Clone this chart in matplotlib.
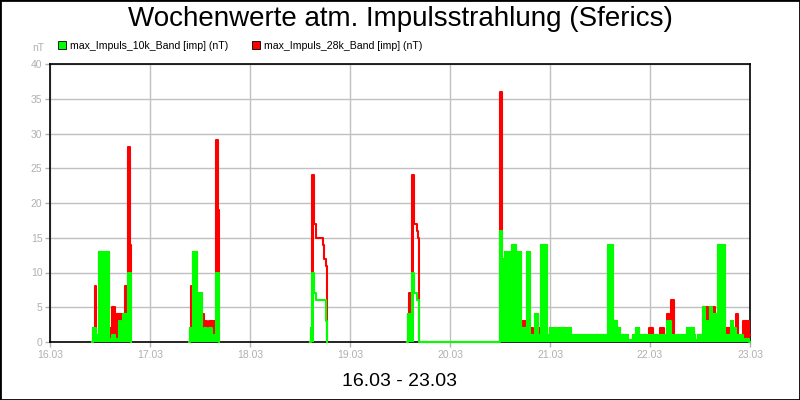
import numpy as np
import matplotlib.pyplot as plt
from matplotlib.patches import Patch, Rectangle

plt.rcParams['font.family'] = ['Liberation Sans', 'DejaVu Sans']

# hours since 16.03 00:00, one row per change of the min/max envelope
# nan = no data (gap)
nan = np.nan
t_hours = [
    # 16.03 afternoon
    10.0, 10.3, 10.7, 11.1, 11.8, 14.1, 14.9, 15.7, 16.5, 17.1, 17.5, 17.9,
    18.6, 18.8, 19.1, 19.4, 19.4,
    # 17.03
    33.4, 33.6, 33.9, 34.2, 35.4, 35.8, 36.4, 37.0, 37.7, 38.2, 38.8, 39.1,
    39.8, 40.2, 40.5, 40.5,
    # 18.03
    62.4, 62.6, 63.0, 63.4, 63.8, 65.4, 65.8, 66.2, 66.5, 66.6, 66.6,
    # 19.03
    85.7, 86.0, 86.2, 86.6, 87.0, 87.4, 88.0, 88.4, 88.6,
    # 20.03 - 23.03
    107.9, 108.6, 108.9, 109.2, 110.4, 110.8, 111.8, 113.0, 114.4, 115.1,
    115.4, 116.0, 116.4, 117.1, 117.9, 119.3, 120.0, 120.5, 121.0, 121.8,
    122.4, 123.8, 124.3, 125.0, 133.8, 135.1, 136.1, 136.8, 138.7, 139.9,
    140.6, 141.4, 143.8, 144.8, 146.4, 147.4, 148.0, 149.0, 149.8, 152.8,
    153.6, 153.8, 154.6, 154.8, 155.6, 156.8, 157.3, 158.0, 158.4, 159.0,
    159.6, 160.4, 162.0, 163.2, 163.4, 163.9, 164.6, 165.2, 166.3, 167.8,
    168.0,
]
red_max = [
    0, 2, 8, 1, 13, 2, 5, 4, 4, 4, 4, 8,
    14, 28, 14, 0, nan,
    0, 2, 8, 13, 2, 7, 4, 3, 2, 3, 2, 3,
    29, 19, 0, nan,
    0, 2, 24, 17, 15, 14, 12, 11, 11, 0, nan,
    0, 4, 7, 1, 24, 17, 16, 15, 0,
    36, 11, 12, 13, 1, 14, 13, 3, 13, 1,
    2, 1, 4, 2, 14, 1, 2, 1, 2, 1,
    2, 1, 2, 1, 14, 3, 2, 1, 0.3, 1,
    2, 1, 2, 1, 2, 1, 4, 6, 1, 2,
    1, 2, 1, 0.3, 1, 5, 5, 1, 5, 5,
    4, 14, 2, 1, 3, 2, 4, 1, 3, 1,
    1,
]
green_max = [
    0, 2, 2, 1, 13, 0.5, 1, 0.5, 3, 1, 4, 4,
    10, 10, 10, 0, nan,
    0, 2, 2, 13, 1, 7, 1, 2, 1, 2, 1, 1,
    10, 10, 0, nan,
    0, 2, 10, 7, 6, 6, 6, 3, 0, 0, nan,
    0, 4, 4, 1, 10, 7, 6, 6, 0,
    16, 11, 12, 13, 1, 14, 13, 2, 13, 1,
    1, 1, 4, 1, 14, 1, 2, 1, 2, 1,
    2, 1, 2, 1, 14, 3, 2, 1, 0.3, 1,
    2, 1, 1, 1, 1, 1, 3, 1, 1, 2,
    1, 2, 1, 0.3, 1, 5, 3, 1, 5, 4,
    4, 14, 1, 1, 3, 2, 1, 1, 0.5, 0,
    0,
]
# 1 = dense burst (drawn filled down to 0), 0 = single trace
burst = [
    1, 1, 1, 1, 1, 1, 1, 1, 1, 1, 1, 1,
    1, 1, 1, 1, 1,
    1, 1, 1, 1, 1, 1, 1, 1, 1, 1, 1, 1,
    1, 1, 1, 1,
    0, 1, 1, 0, 0, 0, 0, 0, 0, 0, 0,
    0, 1, 1, 1, 1, 0, 0, 0, 0,
] + [1] * 61

day_labels = ['16.03', '17.03', '18.03', '19.03', '20.03', '21.03', '22.03', '23.03']

t = np.array(t_hours, dtype=float)
r_hi = np.array(red_max, dtype=float)
g_hi = np.array(green_max, dtype=float)
dense = np.array(burst, dtype=bool)
r_lo = np.where(dense, 0, r_hi)
g_lo = np.where(dense, 0, g_hi)

fig = plt.figure(figsize=(8, 4), dpi=100)
ax = fig.add_axes([0.0625, 0.145, 0.875, 0.695])

red = '#ff0000'
green = '#00ff00'
ax.fill_between(t, r_lo, r_hi, step='post', color=red, lw=0, zorder=3)
ax.plot(t, r_hi, drawstyle='steps-post', color=red, lw=1.5, zorder=3, clip_on=False)
ax.fill_between(t, g_lo, g_hi, step='post', color=green, lw=0, zorder=4)
ax.plot(t, g_hi, drawstyle='steps-post', color=green, lw=1.5, zorder=4, clip_on=False)

ax.set_xlim(0, 168)
ax.set_ylim(0, 40)
ax.set_xticks(np.arange(0, 169, 24))
ax.set_xticklabels(day_labels)
ax.set_yticks(np.arange(0, 41, 5))
ax.grid(True, color='#c0c0c0', lw=1)
ax.set_axisbelow(True)
for s in ax.spines.values():
    s.set_color('black')
    s.set_linewidth(1.2)
ax.tick_params(colors='#b0b0b0', labelsize=7.5, length=3.5, width=1, pad=2)

fig.text(0.055, 0.88, 'nT', ha='right', va='center', fontsize=7.5, color='#b0b0b0')
fig.text(0.5, 0.952, 'Wochenwerte atm. Impulsstrahlung (Sferics)', ha='center', va='center',
         fontsize=20)
fig.text(0.5, 0.047, '16.03 - 23.03', ha='center', va='center', fontsize=14)

handles = [Patch(facecolor=green, edgecolor='black', lw=0.6, label='max_Impuls_10k_Band [imp] (nT)'),
           Patch(facecolor=red, edgecolor='black', lw=0.6, label='max_Impuls_28k_Band [imp] (nT)')]
fig.legend(handles=handles, loc='center left', bbox_to_anchor=(0.072, 0.886), ncol=2,
           frameon=False, fontsize=7.6, handlelength=0.8, handleheight=0.8,
           handletextpad=0.4, columnspacing=2.2, borderpad=0, borderaxespad=0)

fig.patches.append(Rectangle((0, 0), 1, 1, transform=fig.transFigure, fill=False,
                             edgecolor='black', lw=2, figure=fig))

plt.savefig('out.png', dpi=100)
